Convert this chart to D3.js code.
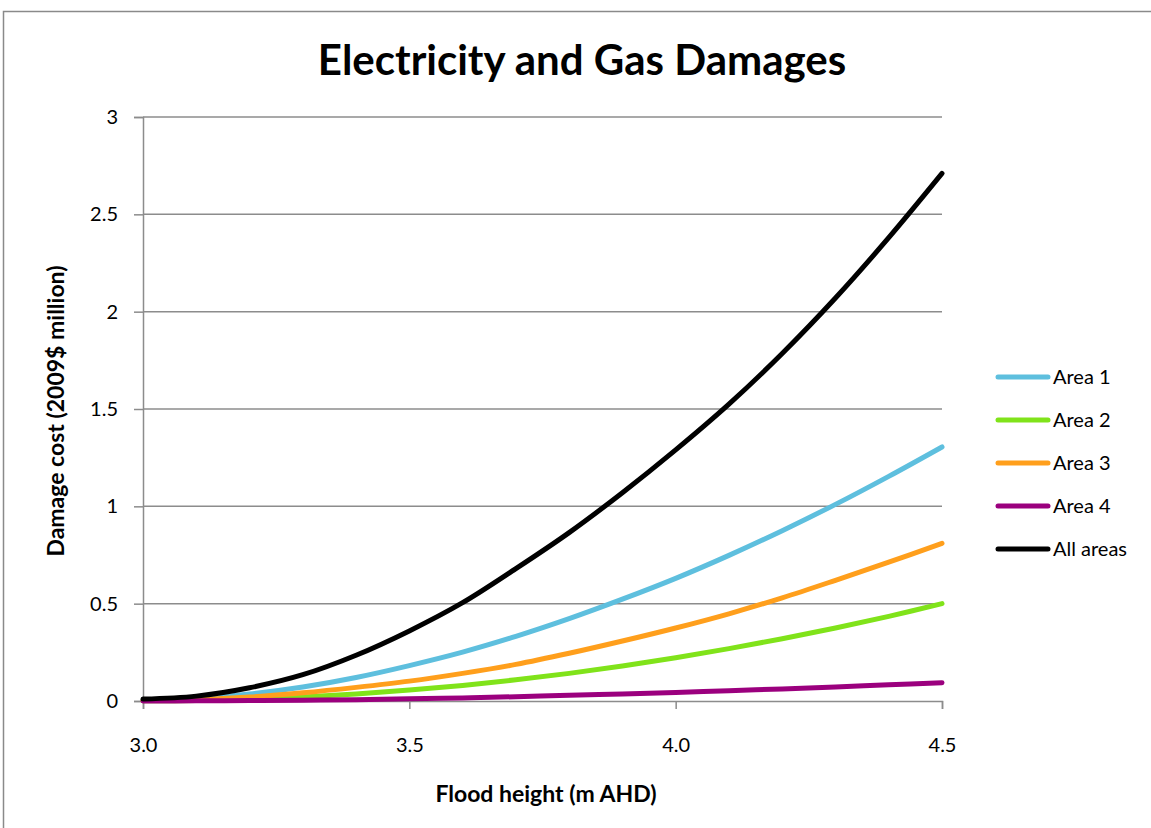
<!DOCTYPE html>
<html>
<head>
<meta charset="utf-8">
<script src="https://cdn.jsdelivr.net/npm/d3@7"></script>
<style>
  html, body { margin: 0; padding: 0; background: #fff; }
  svg { display: block; }
  text { font-family: Lato, "Open Sans", sans-serif; fill: #000; }
</style>
</head>
<body>
<svg id="chart" width="1151" height="828"></svg>
<script>
const floodHeights = [3.0, 3.1, 3.2, 3.3, 3.4, 3.5, 3.6, 3.7, 3.8, 3.9, 4.0, 4.1, 4.2, 4.3, 4.4, 4.5];
const area1 = [0.005, 0.012, 0.036, 0.072, 0.121, 0.182, 0.251, 0.332, 0.423, 0.523, 0.63, 0.748, 0.875, 1.01, 1.154, 1.305];
const area2 = [0.001, 0.003, 0.009, 0.02, 0.036, 0.056, 0.08, 0.109, 0.142, 0.18, 0.222, 0.269, 0.32, 0.375, 0.435, 0.5];
const area3 = [0.003, 0.007, 0.02, 0.042, 0.07, 0.102, 0.142, 0.188, 0.245, 0.308, 0.375, 0.448, 0.53, 0.62, 0.713, 0.81];
const area4 = [0, 0.001, 0.002, 0.004, 0.007, 0.011, 0.016, 0.022, 0.029, 0.036, 0.044, 0.053, 0.062, 0.072, 0.083, 0.094];
const allAreas = [0.01, 0.025, 0.068, 0.135, 0.235, 0.36, 0.505, 0.68, 0.865, 1.07, 1.29, 1.525, 1.785, 2.07, 2.38, 2.71];
const seriesNames = ["Area 1", "Area 2", "Area 3", "Area 4", "All areas"];
const seriesColors = ["#5ebfde", "#80e31a", "#ff9f1c", "#9b007e", "#000000"];
const xTicks = [3.0, 3.5, 4.0, 4.5];
const yTicks = [0, 0.5, 1, 1.5, 2, 2.5, 3];
const titleText = "Electricity and Gas Damages";
const xTitle = "Flood height (m AHD)";
const yTitle = "Damage cost  (2009$ million)";

const seriesValues = [area1, area2, area3, area4, allAreas];
const series = seriesNames.map((n, i) => ({
  name: n, color: seriesColors[i],
  points: floodHeights.map((xv, j) => ({x: xv, y: seriesValues[i][j]}))
}));

const svg = d3.select("#chart");
const plotLeft = 143, plotRight = 942, plotTop = 117, plotBottom = 701;

// outer border
svg.append("rect").attr("x", 3.5).attr("y", 11.5).attr("width", 1200).attr("height", 900)
  .attr("fill", "none").attr("stroke", "#8a8a8a").attr("stroke-width", 1.5);

const x = d3.scaleLinear().domain([3.0, 4.5]).range([plotLeft, plotRight]);
const y = d3.scaleLinear().domain([0, 3]).range([plotBottom, plotTop]);

// gridlines
svg.append("g").selectAll("line").data(yTicks.filter(d => d > 0)).join("line")
  .attr("x1", plotLeft).attr("x2", plotRight)
  .attr("y1", d => y(d)).attr("y2", d => y(d))
  .attr("stroke", "#8c8c8c").attr("stroke-width", 1.5);

// y axis
const yAxis = svg.append("g").attr("transform", `translate(${plotLeft},0)`)
  .call(d3.axisLeft(y).tickValues(yTicks).tickFormat(d3.format("~g")).tickSize(9).tickPadding(16));
yAxis.select(".domain").attr("stroke", "#8c8c8c").attr("stroke-width", 1.5);
yAxis.selectAll(".tick line").attr("stroke", "#8c8c8c").attr("stroke-width", 1.5);
yAxis.selectAll(".tick text").style("font-family", "Lato, sans-serif").style("font-size", "20px").attr("fill", "#000");

// x axis
const xAxis = svg.append("g").attr("transform", `translate(0,${plotBottom})`)
  .call(d3.axisBottom(x).tickValues(xTicks).tickFormat(d3.format(".1f")).tickSize(8).tickPadding(29));
xAxis.select(".domain").attr("stroke", "#8c8c8c").attr("stroke-width", 1.5);
xAxis.selectAll(".tick line").attr("stroke", "#8c8c8c").attr("stroke-width", 1.5);
xAxis.selectAll(".tick text").style("font-family", "Lato, sans-serif").style("font-size", "20px").attr("fill", "#000");

// lines
const line = d3.line().x(d => x(d.x)).y(d => y(d.y)).curve(d3.curveCatmullRom.alpha(0.5));
svg.append("g").selectAll("path").data(series).join("path")
  .attr("d", d => line(d.points))
  .attr("fill", "none").attr("stroke", d => d.color)
  .attr("stroke-width", 5).attr("stroke-linecap", "round").attr("stroke-linejoin", "round");

// title
svg.append("text").attr("x", 582).attr("y", 75).attr("text-anchor", "middle")
  .style("font-size", "42px").style("font-weight", "bold").text(titleText);

// axis titles
svg.append("text").attr("x", 546).attr("y", 802).attr("text-anchor", "middle")
  .style("font-size", "23px").style("font-weight", "bold").text(xTitle);
svg.append("text").attr("transform", "translate(64,411) rotate(-90)").attr("text-anchor", "middle")
  .style("font-size", "23px").style("font-weight", "bold").text(yTitle);

// legend
const lg = svg.append("g").selectAll("g").data(series).join("g")
  .attr("transform", (d, i) => `translate(998,${377 + i * 43})`);
lg.append("line").attr("x1", 0).attr("x2", 50).attr("y1", 0).attr("y2", 0)
  .attr("stroke", d => d.color).attr("stroke-width", 5).attr("stroke-linecap", "round");
lg.append("text").attr("x", 55).attr("y", 7).style("font-size", "20px").text(d => d.name);
</script>
</body>
</html>
